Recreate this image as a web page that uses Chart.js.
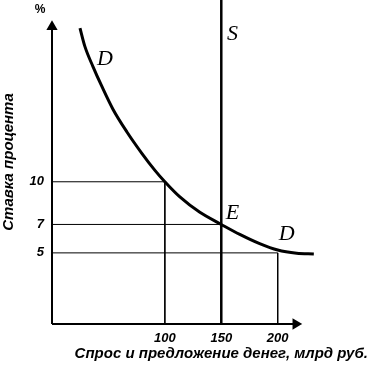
<!DOCTYPE html>
<html>
<head>
<meta charset="utf-8">
<script src="https://cdn.jsdelivr.net/npm/chart.js@4/dist/chart.umd.min.js"></script>
<style>
  html, body { margin: 0; padding: 0; background: #fff; }
  #wrap { width: 370px; height: 368px; }
</style>
</head>
<body>
<div id="wrap"><canvas id="grafico"></canvas></div>
<script>
// кривая спроса D (млрд руб., %)
const demandX = [24.8, 29.2, 36.3, 44.2, 54.0, 66.4, 79.6, 91.2, 100, 113.3, 131, 150, 166.4, 184, 200, 216.8, 232];
const demandY = [20.8, 19.5, 18.1, 16.7, 15.1, 13.5, 12.0, 10.8, 10, 8.93, 7.85, 7, 6.3, 5.65, 5.2, 4.98, 4.92];

// предложение S
const supplyX = 150;

// проекции точек на оси
const guideX = [100, 150, 200];
const guideY = [10, 7, 5];

const xTicks = [100, 150, 200];
const yTicks = [10, 7, 5];

const xTitle = 'Спрос и предложение денег, млрд руб.';
const yTitle = 'Ставка процента';

const letters = [
  { t: 'D', x: 47, y: 18.6 },
  { t: 'S', x: 160, y: 20.4 },
  { t: 'E', x: 160, y: 7.8 },
  { t: 'D', x: 208, y: 6.3 }
];

const xMax = 280, yMax = 22.78;
const xArrow = 216, yArrow = 20.9;

const ctx = document.getElementById('grafico').getContext('2d');

const pts = (xs, ys) => xs.map((x, i) => ({ x, y: ys[i] }));

const guides = guideX.map((gx, i) => ({
  data: [{ x: 0, y: guideY[i] }, { x: gx, y: guideY[i] }, { x: gx, y: 0 }],
  borderColor: '#000',
  borderWidth: 1,
  pointRadius: 0,
  showLine: true,
  fill: false
}));

const textPlugin = {
  id: 'letras',
  afterDatasetsDraw(chart) {
    const { ctx: c, scales: { x, y } } = chart;
    c.save();
    c.fillStyle = '#000';
    c.font = 'italic 22px "Liberation Serif"';
    c.textAlign = 'center';
    c.textBaseline = 'middle';
    letters.forEach(l => c.fillText(l.t, x.getPixelForValue(l.x), y.getPixelForValue(l.y)));
    c.font = 'bold 12px "Liberation Sans"';
    c.fillText('%', x.getPixelForValue(0) - 12, 10);
    c.restore();
  }
};

const tickFont = { family: 'Liberation Sans', size: 13, style: 'italic', weight: 'bold' };
const titleFont = { family: 'Liberation Sans', size: 15, style: 'italic', weight: 'bold' };

new Chart(ctx, {
  type: 'scatter',
  data: {
    datasets: [
      ...guides,
      {
        data: [{ x: supplyX, y: 0 }, { x: supplyX, y: yMax }],
        borderColor: '#000',
        borderWidth: 2.5,
        pointRadius: 0,
        showLine: true
      },
      {
        data: pts(demandX, demandY),
        borderColor: '#000',
        borderWidth: 3,
        pointRadius: 0,
        showLine: true,
        cubicInterpolationMode: 'monotone'
      },
      // оси со стрелками
      {
        data: [{ x: 0, y: 0 }, { x: xArrow, y: 0 }],
        borderColor: '#000',
        backgroundColor: '#000',
        borderWidth: 2,
        showLine: true,
        clip: false,
        pointStyle: 'triangle',
        rotation: 90,
        pointRadius: [0, 4.5]
      },
      {
        data: [{ x: 0, y: 0 }, { x: 0, y: yArrow }],
        borderColor: '#000',
        backgroundColor: '#000',
        borderWidth: 2,
        showLine: true,
        clip: false,
        pointStyle: 'triangle',
        pointRadius: [0, 4.5]
      }
    ]
  },
  options: {
    responsive: true,
    maintainAspectRatio: false,
    animation: false,
    layout: { autoPadding: false, padding: { top: 0, right: 2, bottom: 0, left: 0 } },
    plugins: {
      legend: { display: false },
      tooltip: { enabled: false }
    },
    scales: {
      x: {
        type: 'linear',
        min: 0,
        max: xMax,
        grid: { display: false, tickLength: 0 },
        border: { display: false },
        afterBuildTicks: s => { s.ticks = xTicks.map(v => ({ value: v })); },
        afterFit: s => { s.height = 44; s.paddingLeft = 0; s.paddingRight = 0; },
        ticks: { padding: 7, color: '#000', font: tickFont },
        title: {
          display: true,
          text: xTitle,
          align: 'end',
          color: '#000',
          padding: { top: 0, bottom: 5 },
          font: titleFont
        }
      },
      y: {
        type: 'linear',
        min: 0,
        max: yMax,
        grid: { display: false, tickLength: 0 },
        border: { display: false },
        afterBuildTicks: s => { s.ticks = yTicks.map(v => ({ value: v })); },
        afterFit: s => { s.width = 52; s.paddingTop = 0; s.paddingBottom = 0; },
        ticks: { padding: 8, color: '#000', font: tickFont },
        title: {
          display: true,
          text: yTitle,
          color: '#000',
          padding: { top: 0, bottom: 0 },
          font: titleFont
        }
      }
    }
  },
  plugins: [textPlugin]
});
</script>
</body>
</html>
